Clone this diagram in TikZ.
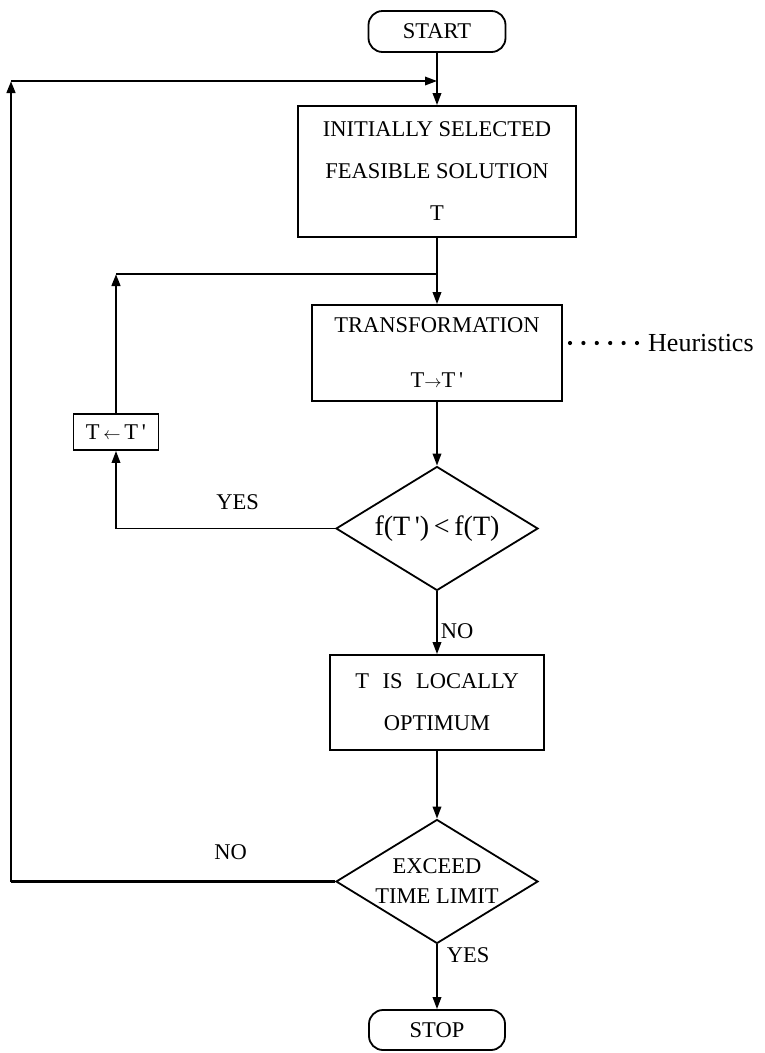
\documentclass[tikz,border=0pt]{standalone}
\usepackage{fontspec}
\setmainfont{Liberation Serif}
\usetikzlibrary{shapes.geometric,arrows.meta}
\newcommand{\rarr}{{\fontsize{17}{17}\selectfont$\rightarrow$}}
\newcommand{\larr}{{\fontsize{17}{17}\selectfont$\leftarrow$}}
\begin{document}
\begin{tikzpicture}[x=1pt,y=-1pt,
  every node/.style={font=\fontsize{22.5}{27}\selectfont},
  proc/.style={draw, line width=1.8pt, rectangle, inner sep=0pt, align=center},
  term/.style={draw, line width=1.8pt, rounded corners=14pt, minimum width=137pt,
    minimum height=41pt, inner sep=0pt},
  decision/.style={draw, line width=1.8pt, diamond, aspect=1.63, inner sep=0pt,
    minimum width=202pt, minimum height=124pt, align=center},
  tip/.style={-{Triangle[length=12pt,width=8.5pt]}},
  flow/.style={line width=1.8pt, tip},
  link/.style={line width=1.8pt},
  heavy/.style={line width=2.6pt},
  lbl/.style={inner sep=0pt},
]
\useasboundingbox (0,0) rectangle (765,1053);

% main column
\node[term] (start) at (437,31.5) {START};
\node[proc, minimum width=278pt, minimum height=131pt,
  font=\fontsize{22.5}{42}\selectfont] (init) at (437,171.5)
  {INITIALLY SELECTED\\FEASIBLE SOLUTION\\T};
\node[proc, minimum width=250pt, minimum height=96pt,
  font=\fontsize{22.5}{55}\selectfont] (trans) at (437,353)
  {TRANSFORMATION\\T\rarr T\,\textquotesingle};
\node[decision, font=\fontsize{28}{30}\selectfont] (d1) at (437,528.5)
  {f(T\,\textquotesingle)\,<\,f(T)};
\node[proc, minimum width=214pt, minimum height=95pt,
  font=\fontsize{22.5}{42}\selectfont] (opt) at (437,702.5)
  {T\hspace{0.6em}IS\hspace{0.6em}LOCALLY\\OPTIMUM};
\node[decision, font=\fontsize{22.5}{30}\selectfont] (d2) at (437,881.5)
  {EXCEED\\TIME LIMIT};
\node[term, minimum width=136pt, minimum height=40pt] (stop) at (437,1030) {STOP};

% replacement step and side note
\node[proc, minimum width=85pt, minimum height=36pt] (swap) at (116,432)
  {T\,\larr\,T\,\textquotesingle};
\node[lbl, anchor=west, font=\fontsize{26}{30}\selectfont] (heur) at (648,343) {Heuristics};

% junction points
\coordinate (topL) at (11,81);
\coordinate (j1) at (start.south |- topL);
\coordinate (loopC) at (swap.north |- 0,274);
\coordinate (j2) at (init.south |- loopC);

% forward flow
\draw[flow] (start) -- (init);
\draw[flow] (init) -- (trans);
\draw[flow] (trans) -- (d1);
\draw[flow] (d1) -- node[lbl, anchor=west, pos=0.64, xshift=3pt] {NO} (opt);
\draw[flow] (opt) -- (d2);
\draw[flow] (d2) -- node[lbl, anchor=west, pos=0.16, xshift=9pt] {YES} (stop);

% inner loop: improvement found
\draw[flow] (d1.west) -| node[lbl, pos=0.2226, yshift=26pt] {YES} (swap.south);
\draw[heavy, tip] (swap.north) -- (loopC);
\draw[link] (loopC) -- (j2);

% outer loop: time limit not exceeded
\draw[heavy] (d2.west) -- node[lbl, pos=0.3225, yshift=29pt] {NO} (d2.west -| topL) coordinate (botL);
\draw[heavy, tip] (botL) -- (topL);
\draw[flow] (topL) -- (j1);

% dotted leader to the note
\foreach \i in {0,...,5}
  \fill ([xshift={-11pt-13.4pt*\i}]heur.west) circle (2.1pt);
\end{tikzpicture}
\end{document}
